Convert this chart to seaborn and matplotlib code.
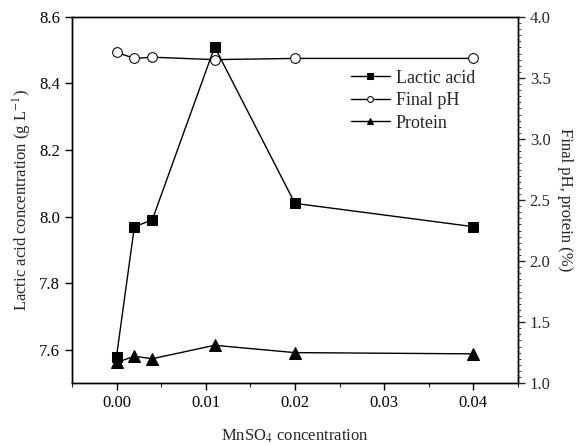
import matplotlib
matplotlib.use("Agg")
import matplotlib.pyplot as plt
from matplotlib.ticker import MultipleLocator
import seaborn as sns
import pandas as pd

# MnSO4 concentration levels
mnso4 = [0.0, 0.002, 0.004, 0.011, 0.02, 0.04]
lactic_acid = [7.58, 7.97, 7.99, 8.51, 8.04, 7.97]
final_ph = [3.71, 3.66, 3.67, 3.65, 3.66, 3.66]
protein = [1.17, 1.22, 1.20, 1.31, 1.25, 1.24]

df = pd.DataFrame({"mnso4": mnso4, "lactic": lactic_acid,
                   "ph": final_ph, "protein": protein})

sns.set_style("ticks")
plt.rcParams['font.family'] = ['Liberation Serif', 'DejaVu Serif']
plt.rcParams['mathtext.fontset'] = 'stix'
plt.rcParams['font.size'] = 12

fig = plt.figure(figsize=(5.8, 4.45), dpi=100)
ax = fig.add_axes([0.124, 0.139, 0.769, 0.823])
ax2 = ax.twinx()

sns.lineplot(data=df, x="mnso4", y="lactic", ax=ax, color="black", lw=1,
             marker="s", markersize=7, markeredgecolor="black",
             label="Lactic acid", legend=False)
sns.lineplot(data=df, x="mnso4", y="ph", ax=ax2, color="black", lw=1,
             marker="o", markersize=7, markerfacecolor="white",
             markeredgecolor="black", label="Final pH", legend=False)
sns.lineplot(data=df, x="mnso4", y="protein", ax=ax2, color="black", lw=1,
             marker="^", markersize=8, markeredgecolor="black",
             label="Protein", legend=False)

ax.set_xlim(-0.005, 0.045)
ax.set_ylim(7.5, 8.6)
ax2.set_ylim(1.0, 4.0)

ax.xaxis.set_major_locator(MultipleLocator(0.01))
ax.xaxis.set_minor_locator(MultipleLocator(0.005))
ax.yaxis.set_major_locator(MultipleLocator(0.2))
ax2.yaxis.set_major_locator(MultipleLocator(0.5))
ax2.yaxis.set_minor_locator(MultipleLocator(0.05))
ax.xaxis.set_major_formatter(plt.FormatStrFormatter('%.2f'))
ax.yaxis.set_major_formatter(plt.FormatStrFormatter('%.1f'))
ax2.yaxis.set_major_formatter(plt.FormatStrFormatter('%.1f'))

ax.tick_params(axis="both", which="major", direction="out", length=5,
               width=1, colors="black", labelsize=12)
ax.tick_params(axis="x", which="minor", direction="out", length=3, width=0.8)
ax2.tick_params(axis="y", which="major", direction="out", length=5,
                width=1, labelsize=12)
ax2.tick_params(axis="y", which="minor", direction="out", length=2, width=0.6)

for a in (ax, ax2):
    for s in a.spines.values():
        s.set_visible(True)
        s.set_linewidth(1)
        s.set_color("black")

ax.set_xlabel("MnSO$_4$ concentration", fontsize=12, labelpad=12)
ax.set_ylabel("Lactic acid concentration (g L$^{-1}$)", fontsize=12)
ax2.set_ylabel("Final pH, protein (%)", fontsize=12, rotation=270,
               labelpad=16)

h1, l1 = ax.get_legend_handles_labels()
h2, l2 = ax2.get_legend_handles_labels()
ax2.legend(h1 + h2, l1 + l2, loc="upper right", frameon=False,
           bbox_to_anchor=(0.94, 0.9), markerscale=0.6, handlelength=2.2,
           handletextpad=0.3, labelspacing=0.3, fontsize=13)

plt.savefig("out.png", dpi=100)
